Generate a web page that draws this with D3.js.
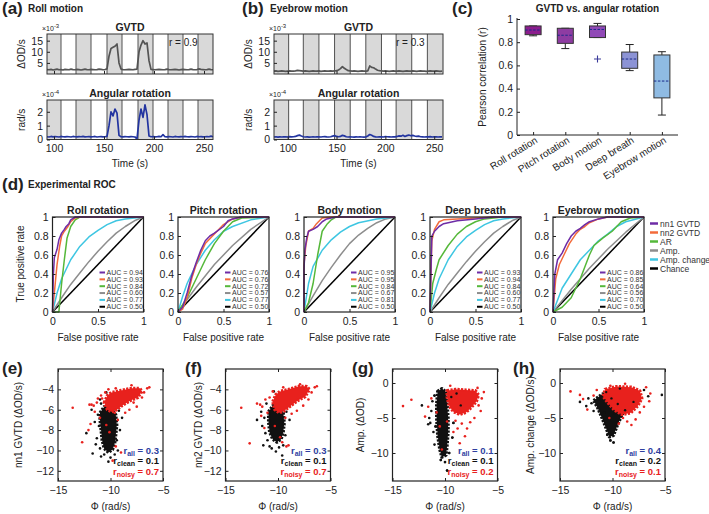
<!DOCTYPE html>
<html><head><meta charset="utf-8">
<script src="https://cdn.jsdelivr.net/npm/d3@7"></script>
<style>body{margin:0;background:#fff;}svg{display:block;}</style>
</head><body>
<svg id="fig" width="709" height="514"></svg>
<script>
// ================= DATA =================
// (a) Roll motion time series, samples every 2 s from 93 s
const rollTime = d3.range(93, 260, 2);
const rollGVTD = [2.0,1.9,2.1,1.8,2.0,2.2,1.9,2.0,1.8,2.1,
  2.0,1.9,2.2,2.0,1.9,2.1,2.0,1.8,2.0,2.2,
  2.0,1.9,2.1,2.0,1.9,2.0,2.2,2.1,1.9,2.0,
  2.3,8.0,11.5,12.0,12.5,13.5,5.0,2.2,2.0,1.9,
  2.0,2.1,2.0,1.9,2.1,2.2,10.0,13.0,15.0,13.5,
  14.0,6.0,2.1,2.0,1.9,2.0,2.1,2.0,1.9,2.0,
  2.2,2.0,1.9,2.0,2.1,2.0,1.8,2.0,2.1,2.0,
  1.9,2.0,2.2,2.0,1.9,2.0,2.3,2.1,2.0,1.9,
  2.0,2.2,2.0,1.9];
const rollAngular = [0.20,0.18,0.22,0.19,0.21,0.20,0.18,0.22,0.20,0.19,
  0.21,0.20,0.18,0.22,0.20,0.19,0.21,0.20,0.22,0.19,
  0.20,0.21,0.19,0.20,0.22,0.18,0.20,0.21,0.19,0.20,
  0.22,1.0,2.0,1.7,2.2,1.9,0.3,0.20,0.19,0.21,
  0.20,0.19,0.21,0.20,0.18,0.05,1.4,2.2,1.6,2.5,
  1.8,0.25,0.20,0.21,0.19,0.20,0.22,0.20,0.35,0.20,
  0.19,0.21,0.20,0.18,0.22,0.20,0.19,0.21,0.20,0.22,
  0.20,0.19,0.21,0.20,0.18,0.22,0.20,0.21,0.19,0.20,
  0.21,0.20,0.24,0.20];
const rollBlocks = [[93,107],[122,137],[153,168],[184,199],[214,229],[244,259]];
// (b) Eyebrow motion, samples every 2 s from 86 s
const eyeTime = d3.range(86, 259, 2);
const eyeGVTD = [1.3,1.4,1.2,1.3,1.4,1.3,1.2,1.3,1.4,1.3,
  1.3,1.4,1.6,1.5,1.4,1.3,1.4,1.3,1.2,1.3,
  1.4,1.3,1.3,1.4,1.2,1.3,1.4,1.3,1.3,1.4,
  1.3,1.4,1.5,1.8,2.4,3.3,2.6,2.0,1.5,1.4,
  1.3,1.4,1.3,1.2,1.3,1.4,1.3,1.3,1.4,3.6,
  3.0,2.8,2.2,1.7,1.5,1.4,1.3,1.4,1.3,1.2,
  1.3,1.4,1.3,1.3,1.4,1.3,1.2,1.3,1.4,1.3,
  1.3,1.4,1.3,1.2,1.3,1.4,1.3,1.3,1.2,1.3,
  1.4,1.3,1.3,1.4,1.3,1.2,1.3];
const eyeAngular = [0.18,0.20,0.17,0.19,0.18,0.20,0.19,0.18,0.21,0.19,
  0.20,0.22,0.28,0.32,0.25,0.20,0.18,0.19,0.17,0.18,
  0.19,0.18,0.20,0.19,0.18,0.20,0.21,0.19,0.18,0.20,
  0.24,0.28,0.22,0.20,0.22,0.30,0.26,0.20,0.18,0.19,
  0.18,0.17,0.19,0.18,0.20,0.18,0.17,0.19,0.25,0.36,
  0.30,0.22,0.19,0.18,0.20,0.19,0.18,0.21,0.20,0.19,
  0.18,0.20,0.19,0.22,0.26,0.24,0.30,0.22,0.28,0.32,
  0.27,0.30,0.25,0.22,0.24,0.20,0.19,0.18,0.20,0.19,
  0.21,0.18,0.20,0.19,0.18,0.20,0.19];
const eyeBlocks = [[86,101],[116,132],[148,164],[180,196],[211,227],[243,259]];
const timeTicks = [100,150,200,250];
const gvtdTicks = [5,10,15];
const angTicks = [0,1,2];

// (c) box plot
const boxCats = ["Roll rotation","Pitch rotation","Body motion","Deep breath","Eyebrow motion"];
const boxLo  = [0.855,0.745,0.84,0.555,0.172];
const boxQ1  = [0.865,0.79,0.84,0.575,0.32];
const boxMed = [0.905,0.86,0.91,0.655,0.465];
const boxQ3  = [0.94,0.92,0.94,0.715,0.69];
const boxHi  = [0.94,0.92,0.962,0.78,0.718];
const boxOut = [[],[],[0.655],[],[]];
const boxColors = ["#8b1d8d","#8e3ca2","#9049b6","#8c93d5","#8fbbe3"];
const boxYTicks = [0,0.2,0.4,0.6,0.8,1];

// (d) ROC curves: [fpr, tpr]
const rocTitles = ["Roll rotation","Pitch rotation","Body motion","Deep breath","Eyebrow motion"];
const rocNames = ["nn1 GVTD","nn2 GVTD","AR","Amp.","Amp. change","Chance"];
const rocColors = ["#6e2ca6","#f36b3b","#55b83a","#8d8d8d","#3ec6e2","#000000"];
const aucRoll = [0.94,0.93,0.84,0.60,0.77,0.50];
const aucPitch = [0.76,0.76,0.72,0.57,0.77,0.50];
const aucBody = [0.95,0.95,0.84,0.67,0.81,0.50];
const aucBreath = [0.93,0.94,0.84,0.60,0.77,0.50];
const aucEyebrow = [0.86,0.85,0.64,0.56,0.70,0.50];
const chanceLine = [[0,0],[1,1]];
const rocRoll = [
  [[0,0],[0.01,0.4],[0.02,0.57],[0.05,0.66],[0.07,0.76],[0.1,0.83],[0.13,0.87],[0.15,0.9],[0.18,0.93],[0.2,0.97],[0.25,1],[1,1]],
  [[0,0],[0.03,0.3],[0.05,0.5],[0.08,0.7],[0.1,0.8],[0.13,0.85],[0.17,0.9],[0.2,0.95],[0.25,0.99],[0.3,1],[1,1]],
  [[0,0],[0.07,0],[0.1,0.3],[0.13,0.55],[0.16,0.78],[0.2,0.9],[0.25,0.97],[0.3,1],[1,1]],
  [[0,0],[0.1,0.15],[0.2,0.29],[0.3,0.41],[0.4,0.53],[0.5,0.64],[0.6,0.74],[0.7,0.83],[0.8,0.9],[0.9,0.96],[1,1]],
  [[0,0],[0.05,0.2],[0.1,0.35],[0.2,0.55],[0.3,0.69],[0.4,0.79],[0.5,0.86],[0.6,0.92],[0.7,0.96],[0.8,0.98],[1,1]]
];
const rocPitch = [
  [[0,0],[0.05,0.05],[0.1,0.2],[0.15,0.38],[0.2,0.52],[0.25,0.65],[0.3,0.75],[0.35,0.8],[0.4,0.83],[0.5,0.9],[0.55,0.96],[0.6,0.98],[0.7,1],[1,1]],
  [[0,0],[0.05,0.03],[0.1,0.15],[0.15,0.35],[0.2,0.5],[0.25,0.62],[0.3,0.72],[0.4,0.82],[0.5,0.92],[0.6,0.98],[0.7,1],[1,1]],
  [[0,0],[0.1,0.15],[0.2,0.35],[0.3,0.55],[0.4,0.72],[0.5,0.85],[0.6,0.95],[0.7,0.99],[1,1]],
  [[0,0],[0.2,0.26],[0.4,0.5],[0.6,0.7],[0.8,0.87],[1,1]],
  [[0,0],[0.05,0.16],[0.1,0.3],[0.2,0.5],[0.3,0.65],[0.4,0.76],[0.5,0.85],[0.6,0.9],[0.8,0.97],[1,1]]
];
const rocBody = [
  [[0,0],[0,0.45],[0.01,0.65],[0.03,0.78],[0.05,0.85],[0.1,0.87],[0.15,0.9],[0.2,0.95],[0.25,0.98],[0.35,1],[1,1]],
  [[0,0],[0,0.5],[0.02,0.7],[0.05,0.85],[0.1,0.88],[0.13,0.92],[0.17,0.96],[0.2,0.99],[0.3,1],[1,1]],
  [[0,0],[0.05,0.1],[0.1,0.3],[0.15,0.6],[0.2,0.85],[0.25,0.92],[0.3,0.97],[0.35,1],[1,1]],
  [[0,0],[0.1,0.17],[0.2,0.33],[0.3,0.47],[0.4,0.6],[0.5,0.72],[0.6,0.81],[0.7,0.88],[0.8,0.94],[0.9,0.98],[1,1]],
  [[0,0],[0.05,0.3],[0.1,0.48],[0.2,0.65],[0.3,0.76],[0.4,0.84],[0.5,0.9],[0.6,0.94],[0.8,0.98],[1,1]]
];
const rocBreath = [
  [[0,0],[0.02,0.8],[0.05,0.85],[0.1,0.9],[0.15,0.93],[0.3,0.96],[0.5,0.98],[0.7,1],[1,1]],
  [[0,0],[0.02,0.75],[0.05,0.87],[0.1,0.95],[0.15,0.97],[0.3,0.98],[0.5,0.99],[0.7,1],[1,1]],
  [[0,0],[0.03,0.3],[0.07,0.45],[0.1,0.55],[0.2,0.7],[0.3,0.82],[0.4,0.9],[0.5,0.95],[0.6,0.98],[0.8,1],[1,1]],
  [[0,0],[0.1,0.15],[0.2,0.29],[0.3,0.41],[0.4,0.53],[0.5,0.64],[0.6,0.74],[0.7,0.83],[0.8,0.9],[0.9,0.96],[1,1]],
  [[0,0],[0.05,0.2],[0.1,0.35],[0.2,0.55],[0.3,0.69],[0.4,0.79],[0.5,0.86],[0.6,0.92],[0.7,0.96],[0.8,0.98],[1,1]]
];
const rocEyebrow = [
  [[0,0],[0.02,0.4],[0.05,0.55],[0.1,0.62],[0.15,0.72],[0.2,0.8],[0.25,0.85],[0.3,0.88],[0.35,0.92],[0.4,0.95],[0.5,0.98],[0.6,1],[1,1]],
  [[0,0],[0.03,0.35],[0.07,0.5],[0.12,0.6],[0.18,0.72],[0.25,0.82],[0.3,0.87],[0.35,0.9],[0.4,0.94],[0.5,0.98],[0.6,1],[1,1]],
  [[0,0],[0.1,0.05],[0.2,0.15],[0.3,0.35],[0.4,0.6],[0.45,0.7],[0.55,0.78],[0.65,0.85],[0.75,0.95],[0.85,0.99],[1,1]],
  [[0,0],[0.2,0.24],[0.4,0.46],[0.6,0.66],[0.8,0.84],[1,1]],
  [[0,0],[0.1,0.25],[0.2,0.4],[0.3,0.55],[0.4,0.65],[0.5,0.75],[0.6,0.82],[0.7,0.9],[0.8,0.95],[1,1]]
];
const rocXTicks = [0,0.5,1];
const rocYTicks = [0,0.2,0.4,0.6,0.8,1];

// (e)-(h) scatter: [Phi, value]; dense cores given as outlines
const eBlackCore = [[-11.0,-6.3],[-10.6,-5.7],[-10.0,-5.8],[-9.5,-6.5],[-9.4,-7.5],[-9.5,-8.5],[-9.6,-9.3],[-9.8,-9.9],[-10.2,-10.2],[-10.6,-9.8],[-10.8,-9.0],[-10.9,-8.0],[-11.0,-7.0]];
const eRedCore = [[-10.6,-5.3],[-10.3,-4.6],[-9.9,-4.3],[-9.0,-4.1],[-8.0,-3.9],[-7.2,-3.9],[-7.0,-4.2],[-7.4,-4.8],[-8.1,-5.1],[-8.9,-5.6],[-9.4,-6.0],[-9.9,-6.2],[-10.3,-6.0]];
const eBlack = [[-12.3,-8.3],[-11.7,-10.3],[-11.5,-7.2],[-11.2,-6.5],[-11.3,-8.8],[-10.9,-10.6],[-10.2,-11.1],[-10.0,-10.7],[-9.3,-10.0],[-10.4,-4.3],[-9.1,-4.6],[-8.5,-4.4],[-11.8,-6.0],[-11.0,-9.8],[-9.2,-6.1],[-8.9,-6.8],[-11.1,-7.6],[-10.9,-5.4],[-9.4,-9.0],[-9.1,-8.0],[-11.4,-9.4],[-10.6,-10.4],[-9.6,-10.4],[-11.0,-5.0],[-9.9,-5.0]];
const eRed = [[-13.6,-5.8],[-12.7,-9.2],[-12.0,-5.5],[-11.8,-5.5],[-11.6,-5.6],[-11.5,-6.2],[-11.3,-5.3],[-11.9,-7.4],[-12.1,-8.0],[-10.8,-4.9],[-11.0,-6.8],[-9.5,-9.6],[-9.0,-10.2],[-9.8,-11.0],[-8.6,-6.3],[-8.2,-6.0],[-7.5,-5.7],[-6.8,-4.3],[-6.5,-3.9],[-6.3,-3.8],[-10.4,-7.5],[-10.1,-8.2],[-9.3,-7.0],[-9.6,-6.3],[-10.9,-4.6],[-10.5,-4.3],[-7.8,-5.3],[-7.0,-4.8],[-8.0,-3.6],[-9.5,-3.9],[-10.2,-4.0],[-11.2,-4.9]];
const fBlackCore = [[-10.9,-6.2],[-10.5,-5.6],[-9.9,-5.7],[-9.5,-6.3],[-9.4,-7.3],[-9.5,-8.2],[-9.7,-8.9],[-10.1,-9.2],[-10.5,-8.9],[-10.8,-8.2],[-10.9,-7.2]];
const fRedCore = [[-10.5,-5.2],[-10.2,-4.5],[-9.8,-4.2],[-9.0,-4.0],[-8.0,-3.7],[-7.3,-3.7],[-7.0,-4.0],[-7.4,-4.7],[-8.1,-5.1],[-8.9,-5.7],[-9.4,-6.1],[-9.9,-6.3],[-10.3,-6.0]];
const fBlack = [[-12.0,-7.0],[-11.5,-7.6],[-11.3,-6.8],[-11.0,-9.0],[-10.2,-10.1],[-9.6,-10.5],[-10.8,-9.6],[-9.5,-9.5],[-11.2,-8.3],[-10.4,-4.2],[-9.2,-4.4],[-8.4,-4.2],[-11.6,-6.2],[-9.2,-6.2],[-8.9,-7.0],[-11.1,-5.4],[-9.9,-9.7],[-10.6,-9.8],[-11.4,-9.5],[-9.3,-8.5]];
const fRed = [[-13.5,-5.8],[-12.7,-9.3],[-12.0,-5.4],[-11.7,-5.5],[-11.5,-5.7],[-11.3,-7.8],[-11.0,-6.3],[-11.6,-6.6],[-9.6,-9.2],[-9.2,-9.6],[-9.0,-9.5],[-9.8,-8.7],[-10.3,-7.6],[-8.7,-6.4],[-8.2,-6.1],[-7.6,-5.6],[-6.8,-4.3],[-6.5,-3.8],[-6.3,-3.7],[-10.8,-4.8],[-10.5,-4.2],[-7.9,-3.5],[-9.5,-3.8],[-11.2,-5.0],[-7.1,-5.0],[-9.3,-6.8]];
const gBlackCore = [[-10.7,-1.2],[-10.3,-0.8],[-9.9,-1.3],[-9.8,-3.0],[-9.7,-5.0],[-9.7,-7.0],[-9.8,-9.0],[-9.9,-10.3],[-10.3,-10.6],[-10.5,-9.5],[-10.7,-7.5],[-10.8,-5.0],[-10.8,-3.0]];
const gRedCore = [[-9.8,-1.1],[-9.0,-0.9],[-8.0,-1.0],[-7.1,-1.1],[-6.8,-1.7],[-7.0,-2.6],[-7.5,-3.5],[-8.0,-4.2],[-8.6,-4.5],[-9.2,-4.1],[-9.6,-3.3],[-9.8,-2.0]];
const gBlack = [[-12.2,-3.2],[-11.6,-5.9],[-11.5,-5.0],[-11.4,-5.7],[-11.2,-2.6],[-11.3,-4.0],[-11.1,-7.0],[-11.0,-8.8],[-9.8,-12.5],[-10.0,-11.3],[-10.4,-11.0],[-9.4,-2.0],[-8.9,-1.5],[-9.2,-5.7],[-9.3,-7.8],[-11.0,-1.8],[-9.6,-10.0],[-10.9,-6.2],[-8.5,-3.2]];
const gRed = [[-14.0,-3.3],[-13.2,-2.4],[-11.9,-4.8],[-11.6,-3.4],[-11.3,-2.2],[-10.8,-4.2],[-10.5,-6.2],[-8.6,-8.6],[-8.1,-7.6],[-8.8,-6.5],[-9.2,-7.0],[-7.6,-5.6],[-7.2,-5.0],[-6.6,-4.0],[-6.3,-1.3],[-6.5,-2.2],[-6.9,-0.7],[-9.5,-0.4],[-8.4,-5.8],[-9.8,-5.5],[-10.3,-9.5],[-7.9,-6.5],[-9.0,-5.4],[-6.8,-3.2]];
const hBlackCore = [[-11.8,-2.5],[-11.0,-1.6],[-10.2,-1.1],[-9.2,-1.2],[-8.5,-1.9],[-8.7,-3.4],[-9.2,-4.9],[-9.6,-6.3],[-9.9,-7.5],[-10.3,-7.7],[-10.6,-6.5],[-11.0,-5.0],[-11.4,-3.6]];
const hRedCore = [[-10.7,-0.9],[-9.6,-0.5],[-8.2,-0.6],[-7.4,-1.1],[-7.2,-2.2],[-7.6,-3.3],[-8.3,-4.3],[-9.1,-4.5],[-9.8,-3.9],[-10.4,-2.9],[-10.9,-1.9]];
const hBlack = [[-13.1,-2.7],[-12.3,-2.2],[-12.0,-2.9],[-12.5,-3.3],[-11.8,-4.0],[-5.3,-1.7],[-6.6,-1.9],[-7.0,-1.0],[-10.2,-8.2],[-9.9,-8.5],[-10.5,-7.4],[-9.5,-3.0],[-10.1,-2.2],[-8.8,-3.9],[-10.6,-1.3],[-9.3,-0.8],[-8.0,-2.7],[-9.8,-4.4],[-10.8,-4.2],[-11.3,-2.3]];
const hRed = [[-14.0,-1.2],[-13.1,-1.7],[-12.4,-3.8],[-11.8,-1.8],[-11.5,-1.0],[-8.2,-6.0],[-9.0,-5.0],[-8.6,-5.5],[-7.8,-5.2],[-6.4,-1.5],[-6.8,-0.6],[-6.5,-2.6],[-7.0,-3.4],[-7.4,-4.2],[-9.4,-5.8],[-10.3,-5.0],[-12.8,-2.3],[-8.8,-0.1],[-10.2,-0.4],[-7.6,-2.9]];
const scatterLabels = ["(e)","(f)","(g)","(h)"];
const scatterYLabels = ["nn1 GVTD (\u0394OD/s)","nn2 GVTD (\u0394OD/s)","Amp. (\u0394OD)","Amp. change (\u0394OD/s)"];
const rAll = [0.3,0.3,0.1,0.4];
const rClean = [0.1,0.1,0.1,0.2];
const rNoisy = [0.7,0.7,0.2,0.1];
const phiTicks = [-15,-10,-5];
const gvtdScatterTicks = [-12,-10,-8,-6,-4];
const ampScatterTicks = [-10,-5,0];

// ================= DRAWING =================
const FONT = "'Liberation Sans', Arial, sans-serif";
const svg = d3.select("#fig").attr("font-family", FONT);
const INK = "#222";

function txt(x, y, s, o = {}) {
  const t = svg.append("text").attr("x", x).attr("y", y).text(s)
    .attr("font-size", o.size || 10).attr("fill", o.fill || INK)
    .attr("text-anchor", o.anchor || "start");
  if (o.bold) t.attr("font-weight", "bold");
  if (o.rotate !== undefined) t.attr("transform", `rotate(${o.rotate},${x},${y})`);
  return t;
}
function styleAxis(g, fs) {
  g.attr("font-family", FONT).attr("font-size", fs || 10);
  g.select(".domain").remove();
  g.selectAll(".tick line").attr("stroke", INK);
  g.selectAll(".tick text").attr("fill", INK);
}
function expLabel(x, y, e) {
  const t = svg.append("text").attr("x", x).attr("y", y).attr("font-size", 7).attr("fill", INK);
  t.append("tspan").text("\u00d710");
  t.append("tspan").attr("dy", -3).attr("font-size", 6).text(e);
}

// ---- time series panels (a),(b)
function timePanel(cfg) {
  const x = d3.scaleLinear().domain(cfg.xDomain).range([cfg.left, cfg.right]);
  const rows = [
    {top: 34, bottom: 74, dom: [0, 18], ticks: gvtdTicks, vals: cfg.gvtd, color: "#545454", title: "GVTD", exp: "-3", ylab: "\u0394OD/s"},
    {top: 100, bottom: 139.5, dom: [0, 2.85], ticks: angTicks, vals: cfg.ang, color: "#2234a0", title: "Angular rotation", exp: "-4", ylab: "rad/s"}
  ];
  rows.forEach((r, ri) => {
    const y = d3.scaleLinear().domain(r.dom).range([r.bottom, r.top]);
    const g = svg.append("g");
    g.selectAll("rect").data(cfg.blocks).join("rect")
      .attr("x", d => x(d[0])).attr("width", d => x(d[1]) - x(d[0]))
      .attr("y", r.top).attr("height", r.bottom - r.top).attr("fill", "#d9d9d9");
    const edges = cfg.blocks.flat().filter(t => t > cfg.xDomain[0] + 0.5 && t < cfg.xDomain[1] - 0.5);
    g.selectAll("line").data(edges).join("line")
      .attr("x1", d => x(d)).attr("x2", d => x(d)).attr("y1", r.top).attr("y2", r.bottom)
      .attr("stroke", "#505050").attr("stroke-width", 1);
    const line = d3.line().x((d, i) => x(cfg.time[i])).y(d => y(d));
    g.append("path").datum(r.vals).attr("d", line).attr("fill", "none")
      .attr("stroke", r.color).attr("stroke-width", 1.7).attr("stroke-linejoin", "round");
    g.append("rect").attr("x", cfg.left).attr("y", r.top).attr("width", cfg.right - cfg.left)
      .attr("height", r.bottom - r.top).attr("fill", "none").attr("stroke", "#333").attr("stroke-width", 1);
    const ya = svg.append("g").attr("transform", `translate(${cfg.left},0)`)
      .call(d3.axisLeft(y).tickValues(r.ticks).tickSize(-3).tickPadding(4).tickFormat(d3.format("d")));
    styleAxis(ya, 10.5);
    const xa = svg.append("g").attr("transform", `translate(0,${r.bottom})`)
      .call(d3.axisBottom(x).tickValues(timeTicks).tickSize(-3).tickPadding(5)
        .tickFormat(ri === 1 ? d3.format("d") : () => ""));
    styleAxis(xa, 10.5);
    txt((cfg.left + cfg.right) / 2, r.top - 3, r.title, {bold: true, anchor: "middle", size: 10.5});
    expLabel(cfg.left - 5, r.top - 3, r.exp);
    txt(cfg.ylabX, (r.top + r.bottom) / 2, r.ylab, {anchor: "middle", rotate: -90, size: 10});
  });
  txt((cfg.left + cfg.right) / 2, 167, "Time (s)", {anchor: "middle", size: 10});
  txt(cfg.left + 122, 46, cfg.rText, {size: 10});
}
timePanel({left: 47, right: 213, xDomain: [93, 259], time: rollTime, gvtd: rollGVTD, ang: rollAngular,
  blocks: rollBlocks, ylabX: 25, rText: "r = 0.9"});
timePanel({left: 274, right: 443, xDomain: [86, 259], time: eyeTime, gvtd: eyeGVTD, ang: eyeAngular,
  blocks: eyeBlocks, ylabX: 252, rText: "r = 0.3"});
txt(2, 14, "(a)", {bold: true, size: 17});
txt(28, 12, "Roll motion", {bold: true, size: 10});
txt(242, 14, "(b)", {bold: true, size: 17});
txt(270, 12, "Eyebrow motion", {bold: true, size: 10});

// ---- (c) box plot
(function() {
  const L = 517, R = 678, T = 19, B = 135;
  const x = d3.scaleLinear().domain([0.5, 5.5]).range([L, R]);
  const y = d3.scaleLinear().domain([0, 1]).range([B, T]);
  const hw = 8;
  const g = svg.append("g");
  boxCats.forEach((c, i) => {
    const cx = x(i + 1);
    g.append("line").attr("x1", cx).attr("x2", cx).attr("y1", y(boxHi[i])).attr("y2", y(boxQ3[i])).attr("stroke", INK);
    g.append("line").attr("x1", cx).attr("x2", cx).attr("y1", y(boxQ1[i])).attr("y2", y(boxLo[i])).attr("stroke", INK);
    g.append("line").attr("x1", cx - 4).attr("x2", cx + 4).attr("y1", y(boxHi[i])).attr("y2", y(boxHi[i])).attr("stroke", INK);
    g.append("line").attr("x1", cx - 4).attr("x2", cx + 4).attr("y1", y(boxLo[i])).attr("y2", y(boxLo[i])).attr("stroke", INK);
    g.append("rect").attr("x", cx - hw).attr("width", 2 * hw).attr("y", y(boxQ3[i]))
      .attr("height", y(boxQ1[i]) - y(boxQ3[i])).attr("fill", boxColors[i]).attr("stroke", "#333").attr("stroke-width", 1);
    g.append("line").attr("x1", cx - hw).attr("x2", cx + hw).attr("y1", y(boxMed[i])).attr("y2", y(boxMed[i]))
      .attr("stroke", "#1a2a8a").attr("stroke-dasharray", "2.5,1.5").attr("stroke-width", 1);
    boxOut[i].forEach(v => {
      g.append("path").attr("d", `M${cx - 3.5},${y(v)}h7M${cx},${y(v) - 3.5}v7`).attr("stroke", "#3a3a9a").attr("stroke-width", 1.1);
    });
    txt(cx + 5, 142, c, {anchor: "end", rotate: -32, size: 10});
  });
  g.append("line").attr("x1", L).attr("x2", L).attr("y1", T - 1).attr("y2", B).attr("stroke", INK);
  g.append("line").attr("x1", L).attr("x2", R).attr("y1", B).attr("y2", B).attr("stroke", INK);
  const ya = svg.append("g").attr("transform", `translate(${L},0)`)
    .call(d3.axisLeft(y).tickValues(boxYTicks).tickSize(-3).tickPadding(4).tickFormat(d3.format("~g")));
  styleAxis(ya, 10.5);
  const xa = svg.append("g").attr("transform", `translate(0,${B})`)
    .call(d3.axisBottom(x).tickValues([1, 2, 3, 4, 5]).tickSize(-3).tickFormat(() => ""));
  styleAxis(xa);
  txt((L + R) / 2, 12, "GVTD vs. angular rotation", {bold: true, anchor: "middle", size: 10});
  txt(486, 77, "Pearson correlation (r)", {anchor: "middle", rotate: -90, size: 10});
  txt(452, 14, "(c)", {bold: true, size: 17});
})();

// ---- (d) ROC panels
txt(2, 190, "(d)", {bold: true, size: 17});
txt(28, 188, "Experimental ROC", {bold: true, size: 10});
const rocSets = [rocRoll, rocPitch, rocBody, rocBreath, rocEyebrow];
const aucSets = [aucRoll, aucPitch, aucBody, aucBreath, aucEyebrow];
const rocLefts = [52.5, 178, 304, 430, 553];
rocSets.forEach((set, p) => {
  const L = rocLefts[p], W = 91, T = 217, B = 312;
  const x = d3.scaleLinear().domain([0, 1]).range([L, L + W]);
  const y = d3.scaleLinear().domain([0, 1]).range([B, T]);
  const line = d3.line().x(d => x(d[0])).y(d => y(d[1]));
  const g = svg.append("g");
  g.append("rect").attr("x", L).attr("y", T).attr("width", W).attr("height", B - T).attr("fill", "#fff");
  g.append("path").datum(chanceLine).attr("d", line).attr("stroke", rocColors[5]).attr("stroke-width", 1.5).attr("fill", "none");
  [3, 4, 2, 1, 0].forEach(k => {
    g.append("path").datum(set[k]).attr("d", line).attr("fill", "none")
      .attr("stroke", rocColors[k]).attr("stroke-width", 1.5).attr("stroke-linejoin", "round");
  });
  const lx = L + W - 46;
  g.append("rect").attr("x", lx).attr("y", 269).attr("width", 45.5).attr("height", 42).attr("fill", "#fff");
  aucSets[p].forEach((a, k) => {
    const ly = 272.5 + k * 6.85;
    g.append("line").attr("x1", lx + 2).attr("x2", lx + 7.5).attr("y1", ly).attr("y2", ly)
      .attr("stroke", rocColors[k]).attr("stroke-width", 2);
    g.append("text").attr("x", lx + 9).attr("y", ly + 2.3).attr("font-size", 7).attr("fill", "#333")
      .text("AUC = " + a.toFixed(2));
  });
  g.append("rect").attr("x", L).attr("y", T).attr("width", W).attr("height", B - T)
    .attr("fill", "none").attr("stroke", INK).attr("stroke-width", 1.2);
  const ya = svg.append("g").attr("transform", `translate(${L},0)`)
    .call(d3.axisLeft(y).tickValues(rocYTicks).tickSize(-3).tickPadding(4).tickFormat(d3.format("~g")));
  styleAxis(ya, 10.5);
  const xa = svg.append("g").attr("transform", `translate(0,${B})`)
    .call(d3.axisBottom(x).tickValues(rocXTicks).tickSize(-3).tickPadding(6).tickFormat(d3.format("~g")));
  styleAxis(xa, 10.5);
  txt(L + W / 2, 214, rocTitles[p], {bold: true, anchor: "middle", size: 10.5});
  txt(L + W / 2, 341, "False positive rate", {anchor: "middle", size: 10});
});
txt(24, 264, "True positive rate", {anchor: "middle", rotate: -90, size: 10});
rocNames.forEach((n, k) => {
  const ly = 223.5 + k * 9;
  svg.append("line").attr("x1", 650).attr("x2", 658).attr("y1", ly).attr("y2", ly)
    .attr("stroke", rocColors[k]).attr("stroke-width", 2.5);
  txt(660, ly + 3, n, {size: 8.5, fill: "#333"});
});

// ---- (e)-(h) scatter
const scatterSets = [
  {bc: eBlackCore, rc: eRedCore, b: eBlack, r: eRed, dom: [-13, -2], ticks: gvtdScatterTicks},
  {bc: fBlackCore, rc: fRedCore, b: fBlack, r: fRed, dom: [-13, -2], ticks: gvtdScatterTicks},
  {bc: gBlackCore, rc: gRedCore, b: gBlack, r: gRed, dom: [-14, 2], ticks: ampScatterTicks},
  {bc: hBlackCore, rc: hRedCore, b: hBlack, r: hRed, dom: [-14, 2], ticks: ampScatterTicks}
];
const scLefts = [58, 225.5, 392.5, 560];
const labX = [2, 185, 352, 513];
const yLabX = [22, 202, 364, 534];
const RED = "#e8211d", BLK = "#111";
scatterSets.forEach((s, p) => {
  const L = scLefts[p], W = 105, T = 369, B = 481;
  const x = d3.scaleLinear().domain([-15, -5]).range([L, L + W]);
  const y = d3.scaleLinear().domain(s.dom).range([B, T]);
  const g = svg.append("g");
  const core = d3.line().x(d => x(d[0])).y(d => y(d[1])).curve(d3.curveLinearClosed);
  g.append("path").datum(s.bc).attr("d", core).attr("fill", BLK).attr("stroke", BLK)
    .attr("stroke-width", 3.2).attr("stroke-dasharray", "2.2,1.3").attr("stroke-linejoin", "round");
  g.selectAll("circle.b").data(s.b).join("circle").attr("class", "b")
    .attr("cx", d => x(d[0])).attr("cy", d => y(d[1])).attr("r", 1.3).attr("fill", BLK);
  g.append("path").datum(s.rc).attr("d", core).attr("fill", RED).attr("stroke", RED)
    .attr("stroke-width", 3.2).attr("stroke-dasharray", "2.2,1.3").attr("stroke-linejoin", "round");
  g.selectAll("circle.r").data(s.r).join("circle").attr("class", "r")
    .attr("cx", d => x(d[0])).attr("cy", d => y(d[1])).attr("r", 1.3).attr("fill", RED);
  if (p >= 2) {
    g.selectAll("circle.b2").data(s.b.slice(8)).join("circle").attr("class", "b2")
      .attr("cx", d => x(d[0])).attr("cy", d => y(d[1])).attr("r", 1.2).attr("fill", BLK);
  }
  g.append("rect").attr("x", L).attr("y", T).attr("width", W).attr("height", B - T)
    .attr("fill", "none").attr("stroke", INK).attr("stroke-width", 1.2);
  const ya = svg.append("g").attr("transform", `translate(${L},0)`)
    .call(d3.axisLeft(y).tickValues(s.ticks).tickSize(-3).tickPadding(4).tickFormat(d3.format("d")));
  styleAxis(ya, 10.5);
  const ya2 = svg.append("g").attr("transform", `translate(${L + W},0)`)
    .call(d3.axisRight(y).tickValues(s.ticks).tickSize(-3).tickFormat(() => ""));
  styleAxis(ya2);
  const xa = svg.append("g").attr("transform", `translate(0,${B})`)
    .call(d3.axisBottom(x).tickValues(phiTicks).tickSize(-3).tickPadding(6).tickFormat(d3.format("d")));
  styleAxis(xa, 10.5);
  const xa2 = svg.append("g").attr("transform", `translate(0,${T})`)
    .call(d3.axisTop(x).tickValues(phiTicks).tickSize(-3).tickFormat(() => ""));
  styleAxis(xa2);
  txt(L + W / 2, 510, "\u03a6 (rad/s)", {anchor: "middle", size: 10});
  txt(yLabX[p], (T + B) / 2, scatterYLabels[p], {anchor: "middle", rotate: -90, size: 10});
  txt(labX[p], 374, scatterLabels[p], {bold: true, size: 17});
  const rows = [["all", rAll[p], "#2f3f9f"], ["clean", rClean[p], "#111"], ["noisy", rNoisy[p], RED]];
  rows.forEach((rw, k) => {
    const t = svg.append("text").attr("x", L + W - 4).attr("y", 454 + k * 10.3).attr("text-anchor", "end")
      .attr("font-size", 9.5).attr("font-weight", "bold").attr("fill", rw[2]);
    t.append("tspan").text("r");
    t.append("tspan").attr("dy", 2).attr("font-size", 7).text(rw[0]);
    t.append("tspan").attr("dy", -2).text(" = " + rw[1]);
  });
});
</script>
</body></html>
